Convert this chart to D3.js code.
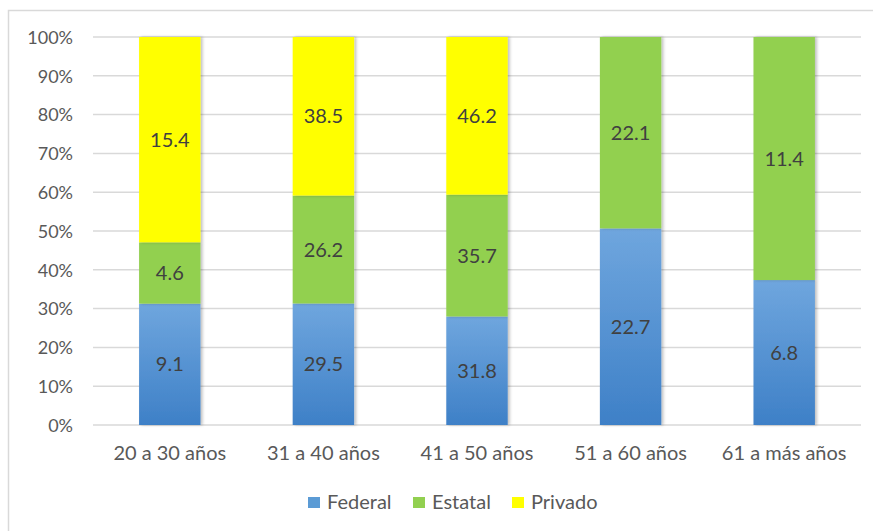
<!DOCTYPE html>
<html><head><meta charset="utf-8">
<script src="https://cdn.jsdelivr.net/npm/d3@7"></script>
<style>body{margin:0;background:#fff}svg{display:block}</style>
</head><body>
<script>
const categories = ["20 a 30 años","31 a 40 años","41 a 50 años","51 a 60 años","61 a más años"];
const seriesNames = ["Federal","Estatal","Privado"];
const federal = [9.1, 29.5, 31.8, 22.7, 6.8];
const estatal = [4.6, 26.2, 35.7, 22.1, 11.4];
const privado = [15.4, 38.5, 46.2, 0, 0];
const yTicks = [0,0.1,0.2,0.3,0.4,0.5,0.6,0.7,0.8,0.9,1];
const colors = {Federal:"#5b9bd5", Estatal:"#92d050", Privado:"#ffff00"};

const W=873,H=531;
const svg=d3.select("body").append("svg").attr("width",W).attr("height",H);
const font="Lato, 'Open Sans', sans-serif";
const defs=svg.append("defs");
const g1=defs.append("linearGradient").attr("id","blueGrad").attr("x1",0).attr("y1",0).attr("x2",0).attr("y2",1);
g1.append("stop").attr("offset","0%").attr("stop-color","#6fa6de");
g1.append("stop").attr("offset","100%").attr("stop-color","#3e80c7");
const f=defs.append("filter").attr("id","shadow").attr("x","-20%").attr("y","-5%").attr("width","140%").attr("height","110%");
f.append("feDropShadow").attr("dx",2).attr("dy",0).attr("stdDeviation",1.5).attr("flood-color","#000").attr("flood-opacity",0.25);

// chart border
svg.append("rect").attr("x",8.5).attr("y",10.5).attr("width",W+10).attr("height",H+10)
  .attr("fill","none").attr("stroke","#d9d9d9").attr("stroke-width",1.5);

const x=d3.scaleBand().domain(categories).range([93,861]).paddingInner(0.6).paddingOuter(0.3);
const y=d3.scaleLinear().domain([0,1]).range([425,37]);

// gridlines
svg.append("g").selectAll("line").data(yTicks).join("line")
  .attr("x1",93).attr("x2",861).attr("y1",d=>y(d)).attr("y2",d=>y(d))
  .attr("stroke","#d9d9d9").attr("stroke-width",1.5);

// y axis labels
const yAxis=d3.axisLeft(y).tickValues(yTicks).tickFormat(d3.format(".0%")).tickSize(0).tickPadding(0);
const ya=svg.append("g").attr("transform","translate(73,0)").call(yAxis);
ya.select(".domain").remove();
ya.selectAll("text").attr("font-family",font).attr("font-size",18).attr("fill","#595959").attr("dy","0.35em");

// data
const rows=categories.map((c,i)=>({cat:c,Federal:federal[i],Estatal:estatal[i],Privado:privado[i]}));
const stack=d3.stack().keys(seriesNames).offset(d3.stackOffsetExpand);
const layers=stack(rows);

const bars=svg.append("g");
layers.forEach(layer=>{
  bars.append("g").selectAll("rect").data(layer.filter(d=>d.data[layer.key]>0)).join("rect")
    .attr("x",d=>x(d.data.cat)).attr("width",x.bandwidth())
    .attr("y",d=>y(d[1])).attr("height",d=>y(d[0])-y(d[1]))
    .attr("fill",layer.key==="Federal"?"url(#blueGrad)":colors[layer.key])
    .attr("filter","url(#shadow)");
});
layers.forEach(layer=>{
  bars.append("g").selectAll("text").data(layer.filter(d=>d.data[layer.key]>0)).join("text")
    .attr("x",d=>x(d.data.cat)+x.bandwidth()/2).attr("y",d=>(y(d[0])+y(d[1]))/2)
    .attr("dy","0.35em").attr("text-anchor","middle")
    .attr("font-family",font).attr("font-size",20).attr("fill","#404040")
    .text(d=>d3.format(".1f")(d.data[layer.key]));
});

// x axis labels
const xAxis=d3.axisBottom(x).tickSize(0).tickPadding(0);
const xa=svg.append("g").attr("transform","translate(0,453)").call(xAxis);
xa.select(".domain").remove();
xa.selectAll("text").attr("font-family",font).attr("font-size",20).attr("fill","#595959").attr("dy","0.35em");

// legend
const legendX=[308,413,512];
const lg=svg.append("g");
seriesNames.forEach((s,i)=>{
  lg.append("rect").attr("x",legendX[i]).attr("y",497).attr("width",12).attr("height",11)
    .attr("fill",s==="Federal"?"#5b9bd5":colors[s]);
  lg.append("text").attr("x",legendX[i]+19).attr("y",502).attr("dy","0.35em")
    .attr("font-family",font).attr("font-size",20).attr("fill","#595959").text(s);
});
</script>
</body></html>
